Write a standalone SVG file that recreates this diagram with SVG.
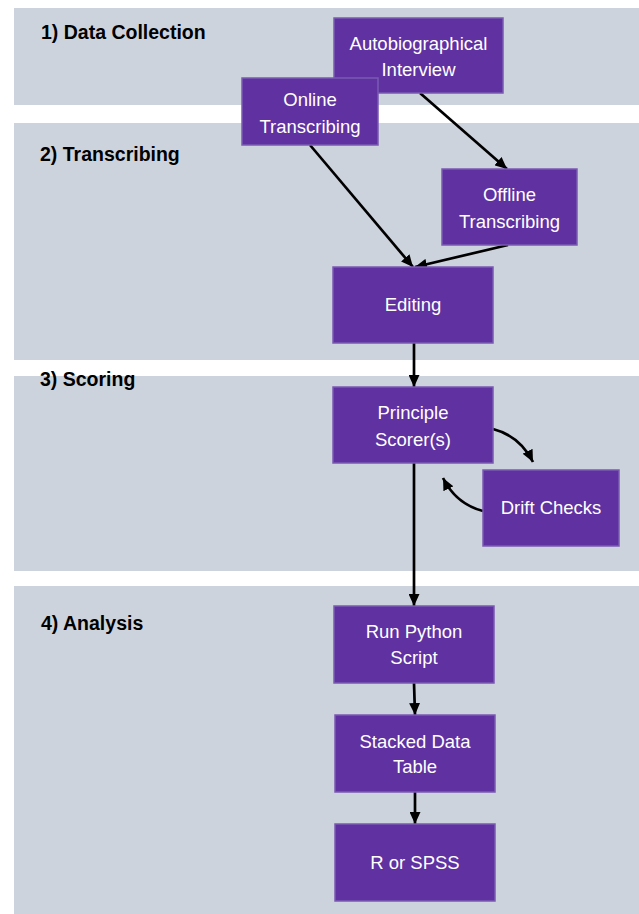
<svg xmlns="http://www.w3.org/2000/svg" width="639" height="914" viewBox="0 0 639 914">
<defs>
<marker id="ah" markerUnits="userSpaceOnUse" markerWidth="12" markerHeight="11" refX="12" refY="5.5" orient="auto">
<path d="M0,0 L12,5.5 L0,11 Z" fill="#000"/>
</marker>
<style>
.band{fill:#CDD3DD}
.sec{font-family:"Liberation Sans",Arial,sans-serif;font-weight:bold;font-size:19.5px;fill:#000}
.box{fill:#6031A0;stroke:#7A5AB3;stroke-width:1.5}
.lbl{font-family:"Liberation Sans",Arial,sans-serif;font-size:18.5px;fill:#fff;text-anchor:middle}
.con{stroke:#000;stroke-width:2.7;fill:none;marker-end:url(#ah)}
</style>
</defs>
<rect width="639" height="914" fill="#fff"/>
<g id="bands">
<rect class="band" x="14" y="8" width="625" height="97"/>
<rect class="band" x="14" y="123" width="625" height="237"/>
<rect class="band" x="14" y="376" width="625" height="195"/>
<rect class="band" x="14" y="586" width="625" height="328"/>
<text class="sec" x="41" y="39">1) Data Collection</text>
<text class="sec" x="40" y="161">2) Transcribing</text>
<text class="sec" x="40" y="386">3) Scoring</text>
<text class="sec" x="41" y="630">4) Analysis</text>
</g>
<g id="connectors">
<line class="con" x1="420" y1="93" x2="507" y2="169"/>
<line class="con" x1="310" y1="145" x2="413" y2="267"/>
<line class="con" x1="508" y1="245" x2="415" y2="267"/>
<line class="con" x1="414" y1="343" x2="414" y2="387"/>
<line class="con" x1="414" y1="463" x2="414" y2="606"/>
<line class="con" x1="414" y1="683" x2="415" y2="715"/>
<line class="con" x1="415" y1="792" x2="415" y2="824"/>
<path class="con" d="M493,429 Q520,436 533,462"/>
<path class="con" d="M483,511 Q456,504 443,478"/>
</g>
<g id="autobiographical">
<rect class="box" x="334" y="18" width="169" height="75"/>
<text class="lbl" x="418.5" y="50">Autobiographical</text>
<text class="lbl" x="418.5" y="76">Interview</text>
</g>
<g id="online">
<rect class="box" x="242" y="78" width="136" height="67"/>
<text class="lbl" x="310" y="106">Online</text>
<text class="lbl" x="310" y="133">Transcribing</text>
</g>
<g id="offline">
<rect class="box" x="442" y="169" width="135" height="76"/>
<text class="lbl" x="509.5" y="201">Offline</text>
<text class="lbl" x="509.5" y="228">Transcribing</text>
</g>
<g id="editing">
<rect class="box" x="333" y="267" width="160" height="76"/>
<text class="lbl" x="413" y="311">Editing</text>
</g>
<g id="principle">
<rect class="box" x="333" y="387" width="160" height="76"/>
<text class="lbl" x="413" y="419">Principle</text>
<text class="lbl" x="413" y="446">Scorer(s)</text>
</g>
<g id="drift">
<rect class="box" x="483" y="470" width="136" height="76"/>
<text class="lbl" x="551" y="514">Drift Checks</text>
</g>
<g id="python">
<rect class="box" x="334" y="606" width="160" height="77"/>
<text class="lbl" x="414" y="638">Run Python</text>
<text class="lbl" x="414" y="664">Script</text>
</g>
<g id="stacked">
<rect class="box" x="335" y="715" width="160" height="77"/>
<text class="lbl" x="415" y="748">Stacked Data</text>
<text class="lbl" x="415" y="773">Table</text>
</g>
<g id="rspss">
<rect class="box" x="335" y="824" width="160" height="77"/>
<text class="lbl" x="415" y="869">R or SPSS</text>
</g>
</svg>
